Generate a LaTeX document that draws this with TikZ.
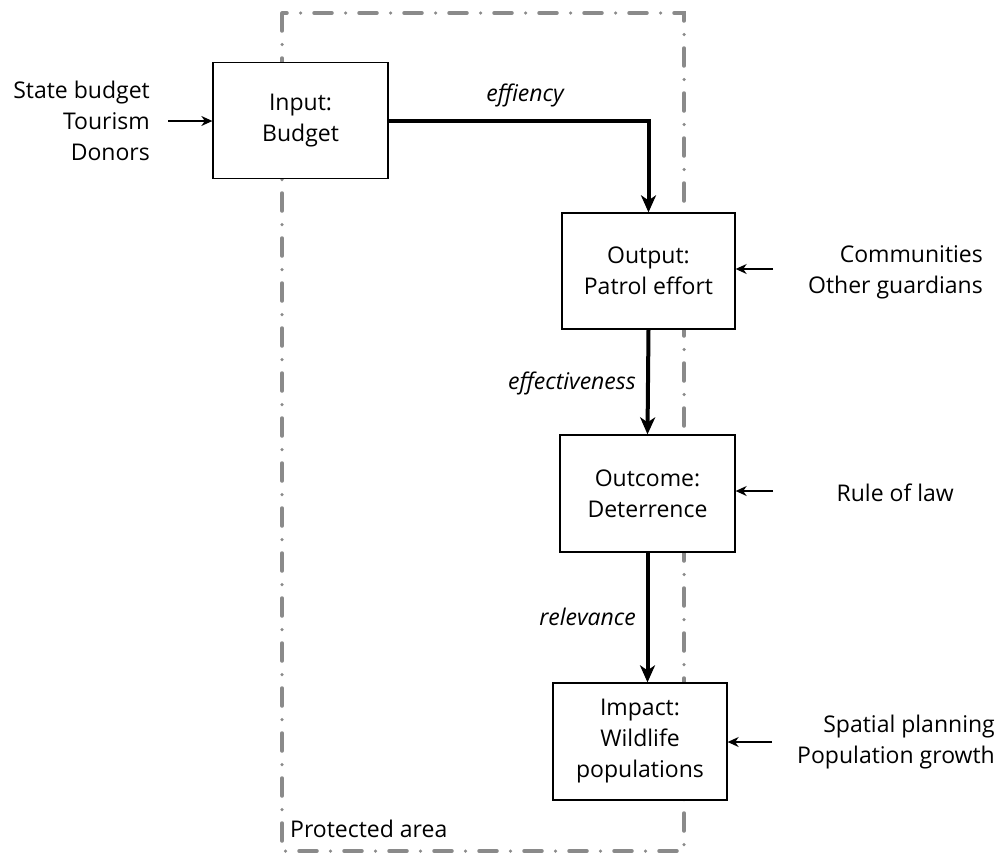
\documentclass[tikz,border=0pt]{standalone}
\usepackage{fontspec}
\setmainfont{Open Sans}
\usetikzlibrary{arrows.meta}
\definecolor{areagray}{HTML}{8A8A8A}
\begin{document}
\begin{tikzpicture}[x=1pt,y=-1pt,
  stage/.style={draw=black, line width=1.3pt, fill=white, align=center,
    inner sep=0pt, font=\fontsize{23}{31}\selectfont},
  side/.style={align=right, inner sep=0pt, font=\fontsize{23}{31}\selectfont},
  flowlabel/.style={inner sep=0pt, font=\fontsize{23}{31}\selectfont\itshape},
  flow/.style={line width=4pt, -{Stealth[length=17pt, width=15pt, inset=5pt]}},
  feed/.style={line width=1.3pt, -{Stealth[length=11pt, width=10pt, inset=3.5pt]}},
  area/.style={draw=areagray, line width=3.5pt, line cap=round,
    dash pattern=on 18pt off 13.5pt on 0pt off 13.5pt}]
\useasboundingbox (0,0) rectangle (1002,854);

% protected area boundary
\draw[area] (282,13) rectangle (684,851);
\node[anchor=base west, inner sep=0pt, font=\fontsize{23}{31}\selectfont] (pa) at (290,837) {Protected area};

% results chain
\node[stage, minimum width=175pt, minimum height=116pt] (in) at (300.5,120.5) {Input:\\Budget};
\node[stage, minimum width=173pt, minimum height=116pt] (out) at (648.5,271) {Output:\\Patrol effort};
\node[stage, minimum width=175pt, minimum height=117pt] (oc) at (647.5,493.5) {Outcome:\\Deterrence};
\node[stage, minimum width=174pt, minimum height=117pt] (im) at (640,741.5) {Impact:\\Wildlife\\populations};

\draw[flow] (in.east) -| (out.north);
\draw[flow] (out.south) -- (oc.north);
\draw[flow] (oc.south) -- (oc.south |- im.north);

\node[flowlabel] (l1) at (525,95) {effiency};
\node[flowlabel, anchor=east] (l2) at (636,383) {effectiveness};
\node[flowlabel, anchor=east] (l3) at (636,617) {relevance};

% external influences
\node[side, anchor=east] (src) at (150,121) {State budget\\Tourism\\Donors};
\node[side, anchor=east] (com) at (983,272) {Communities\\Other guardians};
\node[side, anchor=east] (law) at (954,493) {Rule of law};
\node[side, anchor=east] (spa) at (995,742) {Spatial planning\\Population growth};

\coordinate (srcend) at (168,121);
\coordinate (comend) at (773,269);
\coordinate (lawend) at (773,491);
\coordinate (spaend) at (772,742);

\draw[feed] (srcend) -- (srcend -| in.west);
\draw[feed] (comend) -- (comend -| out.east);
\draw[feed] (lawend) -- (lawend -| oc.east);
\draw[feed] (spaend) -- (spaend -| im.east);
\end{tikzpicture}
\end{document}
